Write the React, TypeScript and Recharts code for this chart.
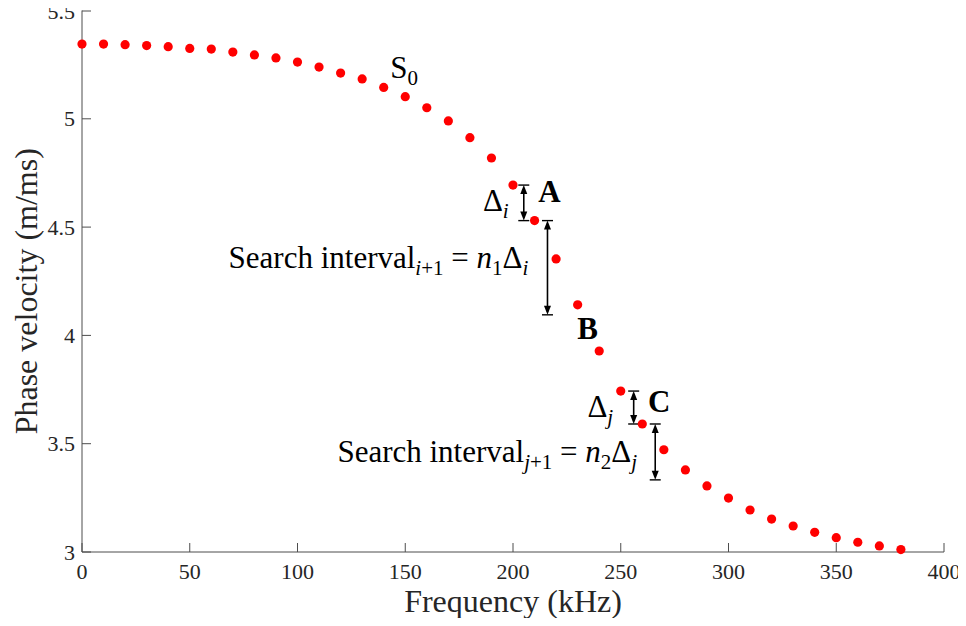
import React from "react";
import {
  ScatterChart,
  Scatter,
  XAxis,
  YAxis,
  ReferenceLine,
  ReferenceDot,
} from "recharts";

const frequency = [
  0, 10, 20, 30, 40, 50, 60, 70, 80, 90, 100, 110, 120, 130, 140, 150, 160,
  170, 180, 190, 200, 210, 220, 230, 240, 250, 260, 270, 280, 290, 300, 310,
  320, 330, 340, 350, 360, 370, 380,
];
const velocity = [
  5.345, 5.345, 5.342, 5.338, 5.333, 5.325, 5.322, 5.308, 5.295, 5.281, 5.262,
  5.239, 5.211, 5.184, 5.145, 5.102, 5.051, 4.99, 4.913, 4.819, 4.694, 4.53,
  4.353, 4.141, 3.928, 3.743, 3.591, 3.472, 3.379, 3.305, 3.249, 3.194, 3.152,
  3.12, 3.091, 3.066, 3.045, 3.028, 3.011,
];
const xTicks = [0, 50, 100, 150, 200, 250, 300, 350, 400];
const yTicks = [3, 3.5, 4, 4.5, 5, 5.5];

// double arrows: frequency, start velocity, end velocity
const arrows = [
  { f: 205, from: 4.694, to: 4.53 },
  { f: 216, from: 4.53, to: 4.095 },
  { f: 256, from: 3.743, to: 3.591 },
  { f: 266, from: 3.591, to: 3.333 },
];

const FONT = "Liberation Serif, DejaVu Serif, serif";
const FRAME = "#4d4d4d";
const TICK_LEN = 9;

const points = frequency.map((f, i) => ({ f, v: velocity[i] }));

const BottomTick = (props: any) => {
  const { x, y, payload } = props;
  return (
    <g>
      <line x1={x} x2={x} y1={y} y2={y - TICK_LEN} stroke={FRAME} />
      <text x={x} y={y + 27} textAnchor="middle" fontSize={22} style={{ fontFamily: FONT }} fill="#262626">
        {payload.value}
      </text>
    </g>
  );
};

const TopTick = (props: any) => {
  const { x, y } = props;
  return <line x1={x} x2={x} y1={y} y2={y + TICK_LEN} stroke={FRAME} />;
};

const LeftTick = (props: any) => {
  const { x, y, payload } = props;
  return (
    <g>
      <line x1={x} x2={x + TICK_LEN} y1={y} y2={y} stroke={FRAME} />
      <text x={x - 7} y={y + 7.5} textAnchor="end" fontSize={22} style={{ fontFamily: FONT }} fill="#262626">
        {payload.value}
      </text>
    </g>
  );
};

const RightTick = (props: any) => {
  const { x, y } = props;
  return <line x1={x} x2={x - TICK_LEN} y1={y} y2={y} stroke={FRAME} />;
};

const Dot = (props: any) => <circle cx={props.cx} cy={props.cy} r={4.6} fill="#ff0000" />;

const DoubleArrow = (props: any) => {
  const { x1, y1, y2 } = props;
  const top = Math.min(y1, y2);
  const bot = Math.max(y1, y2);
  return (
    <g>
      <line x1={x1} x2={x1} y1={top + 3} y2={bot - 3} stroke="#000" strokeWidth={1.6} />
      <line x1={x1 - 5.5} x2={x1 + 5.5} y1={top} y2={top} stroke="#000" strokeWidth={1.4} />
      <line x1={x1 - 5.5} x2={x1 + 5.5} y1={bot} y2={bot} stroke="#000" strokeWidth={1.4} />
      <path d={`M${x1},${top} L${x1 - 3.5},${top + 9} L${x1 + 3.5},${top + 9} Z`} fill="#000" />
      <path d={`M${x1},${bot} L${x1 - 3.5},${bot - 9} L${x1 + 3.5},${bot - 9} Z`} fill="#000" />
    </g>
  );
};

const SUB = 21;

const textAt = (content: React.ReactNode, anchor: "start" | "end", bold = false) =>
  (props: any) => (
    <text
      x={props.cx}
      y={props.cy}
      textAnchor={anchor}
      fontSize={31}
      style={{ fontFamily: FONT }}
      fontWeight={bold ? "bold" : "normal"}
      fill="#000"
    >
      {content}
    </text>
  );

const searchLabel = (idx: string, n: string) => (
  <>
    Search interval
    <tspan fontSize={SUB} fontStyle="italic" dy={7}>{idx}</tspan>
    <tspan fontSize={SUB}>+1</tspan>
    <tspan dy={-7}>{" = "}</tspan>
    <tspan fontStyle="italic">n</tspan>
    <tspan fontSize={SUB} dy={7}>{n}</tspan>
    <tspan dy={-7}>Δ</tspan>
    <tspan fontSize={SUB} fontStyle="italic" dy={7}>{idx}</tspan>
  </>
);

const deltaLabel = (idx: string) => (
  <>
    Δ<tspan fontSize={SUB} fontStyle="italic" dy={7}>{idx}</tspan>
  </>
);

const annotations = [
  { f: 143, v: 5.188, anchor: "start" as const, bold: false, content: <>S<tspan fontSize={SUB} dy={7}>0</tspan></> },
  { f: 198, v: 4.574, anchor: "end" as const, bold: false, content: deltaLabel("i") },
  { f: 211.7, v: 4.616, anchor: "start" as const, bold: true, content: "A" },
  { f: 207.1, v: 4.311, anchor: "end" as const, bold: false, content: searchLabel("i", "1") },
  { f: 229.8, v: 3.983, anchor: "start" as const, bold: true, content: "B" },
  { f: 246.5, v: 3.623, anchor: "end" as const, bold: false, content: deltaLabel("j") },
  { f: 262.7, v: 3.646, anchor: "start" as const, bold: true, content: "C" },
  { f: 257.6, v: 3.416, anchor: "end" as const, bold: false, content: searchLabel("j", "2") },
];

const XLabel = (props: any) => {
  const { x, y, width } = props.viewBox;
  return (
    <text x={x + width / 2} y={y + 60} textAnchor="middle" fontSize={32} style={{ fontFamily: FONT }} fill="#262626">
      Frequency (kHz)
    </text>
  );
};

const YLabel = (props: any) => {
  const { y, height } = props.viewBox;
  const cx = 29;
  const cy = y + height / 2 + 10;
  return (
    <text
      x={cx}
      y={cy}
      transform={`rotate(-90, ${cx}, ${cy})`}
      textAnchor="middle"
      fontSize={32}
      style={{ fontFamily: FONT }}
      fill="#262626"
    >
      Phase velocity (m/ms)
    </text>
  );
};

export default function App() {
  return (
    <div style={{ marginTop: -6 }}>
      <style>{`.recharts-surface { overflow: visible; }`}</style>
      <ScatterChart width={958} height={616} margin={{ top: 8.5, right: 22, left: 0, bottom: 0 }}>
        <XAxis
          type="number"
          dataKey="f"
          domain={[0, 400]}
          ticks={xTicks}
          height={66}
          tickSize={0}
          tickMargin={0}
          tick={BottomTick}
          axisLine={{ stroke: FRAME }}
          label={XLabel}
        />
        <XAxis
          xAxisId="top"
          orientation="top"
          type="number"
          domain={[0, 400]}
          ticks={xTicks}
          height={0}
          tickSize={0}
          tickMargin={0}
          tick={TopTick}
          axisLine={{ stroke: FRAME }}
        />
        <YAxis
          type="number"
          dataKey="v"
          domain={[3, 5.5]}
          ticks={yTicks}
          width={74}
          tickSize={0}
          tickMargin={0}
          tick={LeftTick}
          axisLine={{ stroke: FRAME }}
          label={YLabel}
        />
        <YAxis
          yAxisId="right"
          orientation="right"
          type="number"
          domain={[3, 5.5]}
          ticks={yTicks}
          width={0}
          tickSize={0}
          tickMargin={0}
          tick={RightTick}
          axisLine={{ stroke: FRAME }}
        />
        <Scatter data={points} shape={Dot} isAnimationActive={false} />
        {arrows.map((a, i) => (
          <ReferenceLine
            key={`arrow-${i}`}
            segment={[
              { x: a.f, y: a.from },
              { x: a.f, y: a.to },
            ]}
            shape={DoubleArrow}
            ifOverflow="visible"
          />
        ))}
        {annotations.map((a, i) => (
          <ReferenceDot
            key={`note-${i}`}
            x={a.f}
            y={a.v}
            ifOverflow="visible"
            shape={textAt(a.content, a.anchor, a.bold)}
          />
        ))}
      </ScatterChart>
    </div>
  );
}
